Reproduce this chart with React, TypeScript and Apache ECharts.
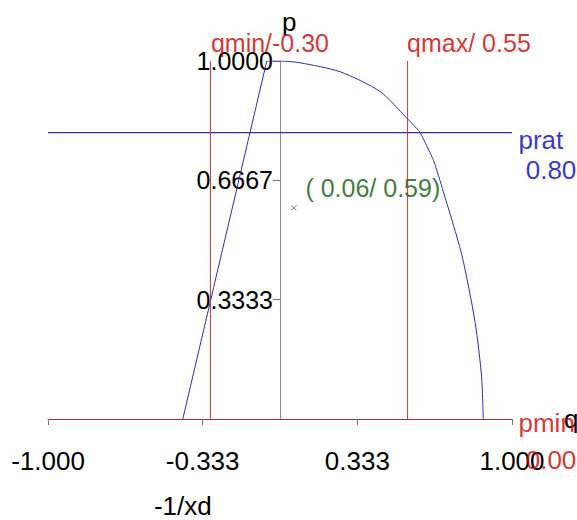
import React, { useEffect, useRef } from "react";
import * as echarts from "echarts";

// ---- data ----
const xTicks = [-1, -1 / 3, 1 / 3, 1];
const yTicks = [1 / 3, 2 / 3, 1];

// stability limit line from -1/xd up to the top
const stabilityQ = [-0.419, -0.057];
const stabilityP = [0.0, 1.0];

// upper (stator) part of the capability curve
const upperQ = [-0.057, 0.0, 0.086, 0.259, 0.431, 0.546, 0.603];
const upperP = [1.0, 1.0, 0.995, 0.97, 0.915, 0.841, 0.802];

// lower (rotor) part of the capability curve
const lowerQ = [0.603, 0.661, 0.704, 0.783, 0.841, 0.869, 0.876];
const lowerP = [0.802, 0.723, 0.635, 0.46, 0.27, 0.118, 0.0];

const qmin = -0.3;
const qmax = 0.55;
const prat = 0.8;
const pmin = 0.0;
const invXd = -0.419;
const invXdLabel = "-1/xd";
const opQ = 0.06;
const opP = 0.59;

const FONT = "'Liberation Sans', Arial, sans-serif";
const RED = "#cc0000";
const RED_LINE = "#b03a3a";
const BLUE = "#0000c0";
const BLUE_LINE = "#2f2fa6";
const GREEN = "#0b560b";

const fmt = (v: number) => (v < 0 ? v.toFixed(2) : " " + v.toFixed(2));
const zip = (a: number[], b: number[]) => a.map((v, i) => [v, b[i]]);

export default function App() {
  const ref = useRef<HTMLDivElement>(null);
  useEffect(() => {
    if (!ref.current) return;
    const chart = echarts.init(ref.current, undefined, { renderer: "svg" });
    const labelBase = { show: true, fontFamily: FONT, fontSize: 25 };
    const lineBase = { type: "line", symbol: "none", silent: true };
    const option: any = {
      animation: false,
      backgroundColor: "#ffffff",
      grid: { left: 48, right: 65, top: 61, bottom: 101, containLabel: false, outerBoundsMode: "none" },
      xAxis: {
        type: "value",
        min: -1,
        max: 1,
        name: "q",
        nameLocation: "end",
        nameGap: 52,
        nameTextStyle: { fontFamily: FONT, fontSize: 26, color: "#000" },
        axisLine: { onZero: true, lineStyle: { color: "#b03030", width: 1 } },
        axisTick: { show: true, customValues: xTicks, length: 6, lineStyle: { color: "#777" } },
        axisLabel: {
          customValues: xTicks,
          formatter: (v: number) => v.toFixed(3),
          fontFamily: FONT,
          fontSize: 26,
          color: "#000",
          margin: 29,
        },
        splitLine: { show: false },
      },
      yAxis: {
        type: "value",
        min: 0,
        max: 1,
        offset: -232,
        name: "p",
        nameLocation: "end",
        nameGap: 26,
        nameTextStyle: { fontFamily: FONT, fontSize: 26, color: "#000", align: "left", padding: [0, 0, 0, 2] },
        axisLine: { onZero: false, lineStyle: { color: "#8c8c8c", width: 1 } },
        axisTick: { show: true, customValues: yTicks, length: 7, lineStyle: { color: "#777" } },
        axisLabel: {
          customValues: yTicks,
          formatter: (v: number) => v.toFixed(4),
          fontFamily: FONT,
          fontSize: 25,
          color: "#000",
          margin: 7,
        },
        splitLine: { show: false },
      },
      series: [
        { ...lineBase, data: zip(stabilityQ, stabilityP), lineStyle: { color: BLUE_LINE, width: 1 } },
        { ...lineBase, data: zip(upperQ, upperP), smooth: 0.25, lineStyle: { color: BLUE_LINE, width: 1 } },
        { ...lineBase, data: zip(lowerQ, lowerP), smooth: 0.25, lineStyle: { color: BLUE_LINE, width: 1 } },
        {
          ...lineBase,
          data: [
            [-1, prat],
            [1, prat],
          ],
          lineStyle: { color: BLUE_LINE, width: 1.2 },
        },
        {
          ...lineBase,
          data: [
            [qmin, 0],
            [qmin, 1],
          ],
          lineStyle: { color: RED_LINE, width: 1 },
        },
        {
          ...lineBase,
          data: [
            [qmax, 0],
            [qmax, 1],
          ],
          lineStyle: { color: RED_LINE, width: 1 },
        },
        {
          type: "scatter",
          silent: true,
          symbol: "path://M0,0L10,10M10,0L0,10",
          symbolSize: 5,
          itemStyle: { color: "none", borderColor: "#555", borderWidth: 1 },
          data: [
            {
              value: [opQ, opP],
              label: {
                ...labelBase,
                formatter: `(${fmt(opQ)}/${fmt(opP)})`,
                color: GREEN,
                position: [16.5, -15],
                align: "left",
                verticalAlign: "middle",
              },
            },
          ],
        },
        {
          type: "scatter",
          silent: true,
          symbolSize: 1,
          itemStyle: { color: "transparent" },
          data: [
            {
              value: [qmin, 1],
              label: {
                ...labelBase,
                formatter: `qmin/${fmt(qmin)}`,
                color: RED,
                position: [1, -5],
                align: "left",
                verticalAlign: "bottom",
              },
            },
            {
              value: [qmax, 1],
              label: {
                ...labelBase,
                formatter: `qmax/${fmt(qmax)}`,
                color: RED,
                position: [0, -5],
                align: "left",
                verticalAlign: "bottom",
              },
            },
            {
              value: [1, prat],
              label: {
                ...labelBase,
                fontSize: 26,
                formatter: `prat\n${fmt(prat)}`,
                color: BLUE,
                lineHeight: 30,
                position: [7, -7],
                align: "left",
                verticalAlign: "top",
              },
            },
            {
              value: [1, pmin],
              label: {
                ...labelBase,
                fontSize: 26,
                formatter: `pmin\n${fmt(pmin)}`,
                color: RED,
                lineHeight: 37,
                position: [7, -14],
                align: "left",
                verticalAlign: "top",
              },
            },
          ],
        },
      ],
    };
    chart.setOption(option);
    const pt = chart.convertToPixel({ xAxisIndex: 0, yAxisIndex: 0 }, [invXd, 0]) as number[];
    chart.setOption({
      graphic: [
        {
          type: "text",
          x: pt[0],
          y: pt[1] + 87,
          silent: true,
          style: {
            text: invXdLabel,
            fontFamily: FONT,
            fontSize: 26,
            fill: "#000",
            align: "center",
            verticalAlign: "middle",
          },
        },
      ],
    });
    return () => chart.dispose();
  }, []);
  return (
    <div
      ref={ref}
      style={{ position: "absolute", left: 0, top: 0, width: 577, height: 520, background: "#fff" }}
    />
  );
}
